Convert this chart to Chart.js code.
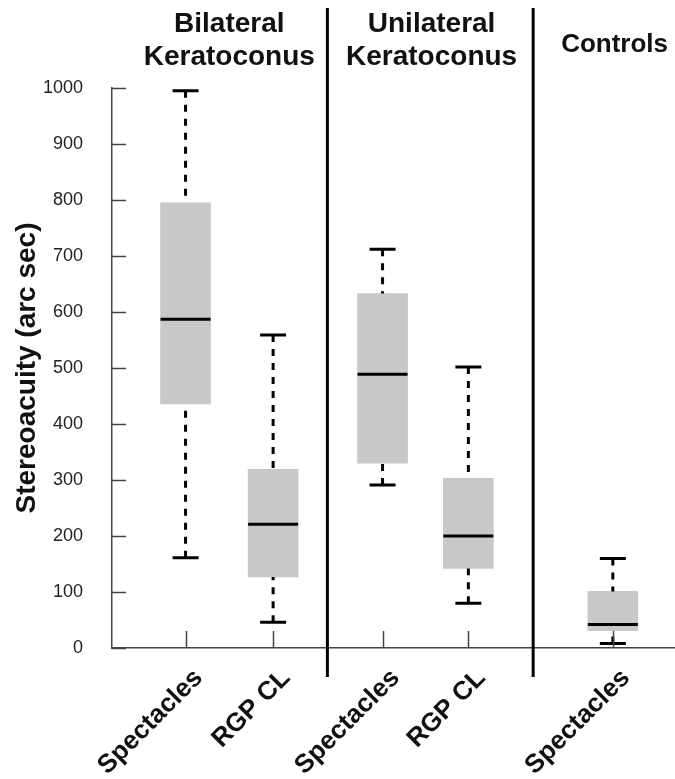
<!DOCTYPE html>
<html>
<head>
<meta charset="utf-8">
<script src="https://cdn.jsdelivr.net/npm/chart.js@4"></script>
<style>
  html, body { margin: 0; padding: 0; background: #fff; }
</style>
</head>
<body>
<canvas id="boxChart" width="675" height="779"></canvas>
<script>
// box plot values (arc sec), one entry per column
const categories = ["Spectacles", "RGP CL", "Spectacles", "RGP CL", "Spectacles"];
const groupTitles = [["Bilateral", "Keratoconus"], ["Unilateral", "Keratoconus"], ["Controls"]];
const whiskerLow = [161, 46, 291, 80, 8];
const quartile1 = [436, 127, 330, 142, 31];
const medians = [587, 221, 489, 200, 42];
const quartile3 = [795, 319, 633, 303, 101];
const whiskerHigh = [995, 559, 712, 502, 160];
const yTicks = [0, 100, 200, 300, 400, 500, 600, 700, 800, 900, 1000];

// layout of the x axis (columns are not evenly spaced in the figure)
const columnX = [1, 2, 3.25, 4.23, 5.88];
const separatorX = [2.62, 4.97];
const groupTitleX = [1.5, 3.81, 5.9];
const groupTitleSize = [28, 28, 26];
const X_MIN = 0.16;
const X_MAX = 6.59;

const FONT = '"Liberation Sans", Arial, Helvetica, sans-serif';
const INK = "#111";
const AXIS = "#444";

const boxPlotExtras = {
  id: "boxPlotExtras",
  afterDatasetsDraw(chart) {
    const { ctx, scales } = chart;
    const y = scales.y;
    const bars = chart.getDatasetMeta(0).data;

    ctx.save();
    ctx.strokeStyle = "#000";
    ctx.lineWidth = 3;

    bars.forEach((bar, i) => {
      const cx = bar.x;
      const half = bar.width / 2;

      // dashed whiskers, drawn from the caps toward the box
      ctx.setLineDash([7, 7]);
      ctx.beginPath();
      ctx.moveTo(cx, y.getPixelForValue(whiskerHigh[i]));
      ctx.lineTo(cx, y.getPixelForValue(quartile3[i]));
      ctx.moveTo(cx, y.getPixelForValue(whiskerLow[i]));
      ctx.lineTo(cx, y.getPixelForValue(quartile1[i]));
      ctx.stroke();
      ctx.setLineDash([]);

      // caps
      ctx.beginPath();
      [whiskerHigh[i], whiskerLow[i]].forEach((v) => {
        const py = y.getPixelForValue(v);
        ctx.moveTo(cx - 13, py);
        ctx.lineTo(cx + 13, py);
      });
      ctx.stroke();

      // median
      const pm = y.getPixelForValue(medians[i]);
      ctx.beginPath();
      ctx.moveTo(cx - half, pm);
      ctx.lineTo(cx + half, pm);
      ctx.stroke();
    });
    ctx.restore();
  },
  afterDraw(chart) {
    const { ctx, chartArea, scales } = chart;
    const x = scales.x;
    const y = scales.y;

    ctx.save();
    // inward ticks on the y axis
    ctx.strokeStyle = AXIS;
    ctx.lineWidth = 1.5;
    ctx.beginPath();
    yTicks.forEach((v) => {
      const py = Math.round(y.getPixelForValue(v)) + 0.5;
      ctx.moveTo(chartArea.left, py);
      ctx.lineTo(chartArea.left + 14, py);
    });
    // upward ticks on the x axis
    columnX.forEach((v) => {
      const px = Math.round(x.getPixelForValue(v)) + 0.5;
      ctx.moveTo(px, chartArea.bottom);
      ctx.lineTo(px, chartArea.bottom - 17);
    });
    ctx.stroke();

    // group separators
    ctx.strokeStyle = "#000";
    ctx.lineWidth = 3;
    ctx.beginPath();
    separatorX.forEach((v) => {
      const px = x.getPixelForValue(v);
      ctx.moveTo(px, 8);
      ctx.lineTo(px, chartArea.bottom + 29);
    });
    ctx.stroke();

    // group titles
    ctx.fillStyle = INK;
    ctx.textAlign = "center";
    ctx.textBaseline = "middle";
    groupTitles.forEach((lines, i) => {
      const px = x.getPixelForValue(groupTitleX[i]);
      ctx.font = `bold ${groupTitleSize[i]}px ${FONT}`;
      if (lines.length === 1) {
        ctx.fillText(lines[0], px, 45);
      } else {
        ctx.fillText(lines[0], px, 24);
        ctx.fillText(lines[1], px, 57);
      }
    });

    // rotated category labels
    ctx.font = `bold 26px ${FONT}`;
    ctx.textAlign = "right";
    ctx.textBaseline = "middle";
    categories.forEach((label, i) => {
      const px = x.getPixelForValue(columnX[i]);
      ctx.save();
      ctx.translate(px + 13, chartArea.bottom + 26);
      ctx.rotate(-Math.PI / 4);
      ctx.fillText(label, 0, 0);
      ctx.restore();
    });
    ctx.restore();
  }
};

const boxes = columnX.map((cx, i) => ({ x: cx, y: [quartile1[i], quartile3[i]] }));

new Chart(document.getElementById("boxChart"), {
  type: "bar",
  data: {
    datasets: [
      {
        data: boxes,
        backgroundColor: "#c8c8c8",
        borderWidth: 0,
        barThickness: 50
      }
    ]
  },
  options: {
    responsive: false,
    animation: false,
    devicePixelRatio: 1,
    layout: { padding: { top: 88, right: 0, bottom: 0, left: 0 } },
    plugins: {
      legend: { display: false },
      tooltip: { enabled: false }
    },
    scales: {
      x: {
        type: "linear",
        offset: false,
        min: X_MIN,
        max: X_MAX,
        grid: { display: false, offset: false },
        border: { display: true, color: AXIS, width: 1.5 },
        ticks: { display: false },
        afterFit: (scale) => { scale.height = 131; }
      },
      y: {
        min: 0,
        max: 1000,
        grid: { display: false, drawTicks: false },
        border: { display: true, color: AXIS, width: 1.5 },
        afterBuildTicks: (scale) => { scale.ticks = yTicks.map((v) => ({ value: v })); },
        ticks: {
          padding: 29,
          color: "#222",
          font: { family: FONT, size: 18 },
          callback: (value) => String(value)
        },
        title: {
          display: true,
          text: "Stereoacuity (arc sec)",
          color: INK,
          font: { family: FONT, size: 28, weight: "bold" },
          padding: { top: 10, bottom: 0 }
        },
        afterFit: (scale) => { scale.width = 112; }
      }
    }
  },
  plugins: [boxPlotExtras]
});
</script>
</body>
</html>
